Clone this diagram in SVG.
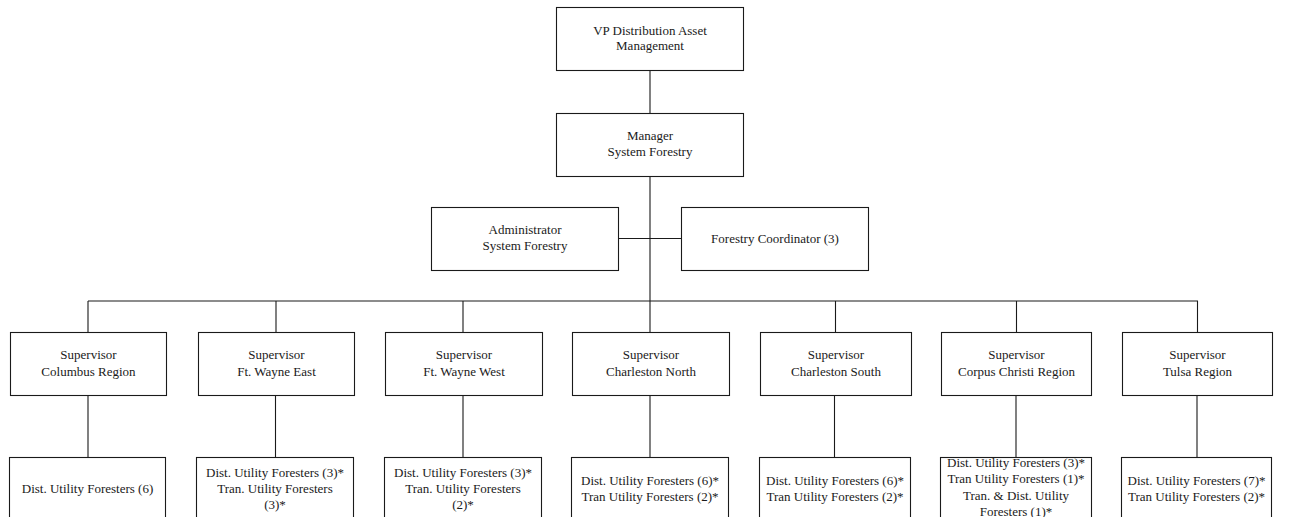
<svg xmlns="http://www.w3.org/2000/svg" width="1291" height="517" viewBox="0 0 1291 517">
<style>
.box{fill:#fff;stroke:#1a1a1a;stroke-width:1.1}
.ln{stroke:#1a1a1a;stroke-width:1.1;fill:none}
text{font-family:"Liberation Serif","Times New Roman",serif;font-size:13px;fill:#1a1a1a;text-anchor:middle}
</style>
<rect width="1291" height="517" fill="#fff"/>
<g id="connectors">
<path class="ln" d="M650 70V113M650 176V301M619 238.5H681M88 301H1198"/>
<path class="ln" d="M88 301V332M276 301V332M463 301V332M650 301V332M835.5 301V332M1016.5 301V332M1197.5 301V332"/>
<path class="ln" d="M88 395V457M275.5 395V457M463 395V457M650 395V457M834.5 395V457M1016 395V457M1197 395V457"/>
</g>
<g id="vp"><rect class="box" x="556.5" y="7.5" width="187" height="63"/><text x="650" y="35">VP Distribution Asset</text><text x="650" y="50">Management</text></g>
<g id="manager"><rect class="box" x="556.5" y="113.5" width="187" height="63"/><text x="650" y="140">Manager</text><text x="650" y="156">System Forestry</text></g>
<g id="admin"><rect class="box" x="431.5" y="207.5" width="187" height="63"/><text x="525" y="234">Administrator</text><text x="525" y="250">System Forestry</text></g>
<g id="coordinator"><rect class="box" x="681.5" y="207.5" width="187" height="63"/><text x="775" y="243">Forestry Coordinator (3)</text></g>
<g id="sup-columbus"><rect class="box" x="10.5" y="332.5" width="156" height="63"/><text x="88.5" y="359">Supervisor</text><text x="88.5" y="376">Columbus Region</text></g>
<g id="sup-ftwe"><rect class="box" x="198.5" y="332.5" width="156" height="63"/><text x="276.5" y="359">Supervisor</text><text x="276.5" y="376">Ft. Wayne East</text></g>
<g id="sup-ftww"><rect class="box" x="385.5" y="332.5" width="157" height="63"/><text x="464" y="359">Supervisor</text><text x="464" y="376">Ft. Wayne West</text></g>
<g id="sup-chn"><rect class="box" x="572.5" y="332.5" width="157" height="63"/><text x="651" y="359">Supervisor</text><text x="651" y="376">Charleston North</text></g>
<g id="sup-chs"><rect class="box" x="760.5" y="332.5" width="151" height="63"/><text x="836" y="359">Supervisor</text><text x="836" y="376">Charleston South</text></g>
<g id="sup-cc"><rect class="box" x="941.5" y="332.5" width="150" height="63"/><text x="1016.5" y="359">Supervisor</text><text x="1016.5" y="376">Corpus Christi Region</text></g>
<g id="sup-tulsa"><rect class="box" x="1122.5" y="332.5" width="150" height="63"/><text x="1197.5" y="359">Supervisor</text><text x="1197.5" y="376">Tulsa Region</text></g>
<g id="f-columbus"><rect class="box" x="9.5" y="457.5" width="156" height="80"/><text x="87.5" y="493">Dist. Utility Foresters (6)</text></g>
<g id="f-ftwe"><rect class="box" x="196.5" y="457.5" width="157" height="80"/><text x="275" y="477">Dist. Utility Foresters (3)*</text><text x="275" y="493">Tran. Utility Foresters</text><text x="275" y="509">(3)*</text></g>
<g id="f-ftww"><rect class="box" x="384.5" y="457.5" width="157" height="80"/><text x="463" y="477">Dist. Utility Foresters (3)*</text><text x="463" y="493">Tran. Utility Foresters</text><text x="463" y="509">(2)*</text></g>
<g id="f-chn"><rect class="box" x="571.5" y="457.5" width="157" height="80"/><text x="650" y="485">Dist. Utility Foresters (6)*</text><text x="650" y="501">Tran Utility Foresters (2)*</text></g>
<g id="f-chs"><rect class="box" x="759.5" y="457.5" width="151" height="80"/><text x="835" y="485">Dist. Utility Foresters (6)*</text><text x="835" y="501">Tran Utility Foresters (2)*</text></g>
<g id="f-cc"><rect class="box" x="940.5" y="457.5" width="151" height="80"/><text x="1016" y="467">Dist. Utility Foresters (3)*</text><text x="1016" y="483">Tran Utility Foresters (1)*</text><text x="1016" y="500">Tran. &amp; Dist. Utility</text><text x="1016" y="516">Foresters (1)*</text></g>
<g id="f-tulsa"><rect class="box" x="1121.5" y="457.5" width="150" height="80"/><text x="1196.5" y="485">Dist. Utility Foresters (7)*</text><text x="1196.5" y="501">Tran Utility Foresters (2)*</text></g>
</svg>
